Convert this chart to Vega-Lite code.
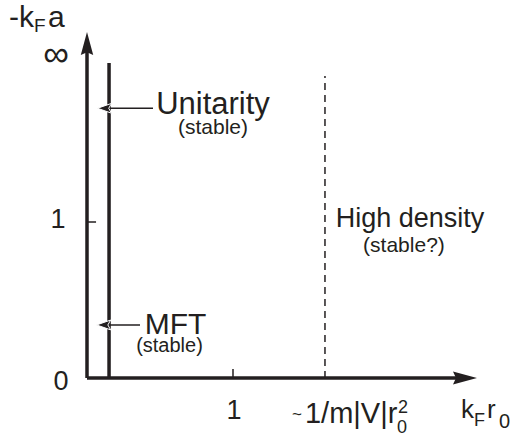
{
  "$schema": "https://vega.github.io/schema/vega-lite/v6.json",
  "width": 522,
  "height": 437,
  "padding": 0,
  "autosize": {"type": "none"},
  "background": "white",
  "config": {"view": {"stroke": null}, "text": {"font": "Liberation Sans", "color": "#231f20"}},
  "datasets": {
    "heavy": [
      {"name": "x axis", "x": 0, "y": 0, "x2": 2.589, "y2": 0},
      {"name": "y axis", "x": 0, "y": 0, "x2": 0, "y2": 2.144},
      {"name": "critical line", "x": 0.151, "y": 0, "x2": 0.151, "y2": 2.019}
    ],
    "thin": [
      {"name": "x tick 1", "x": 1, "y": 0, "x2": 1, "y2": 0.058},
      {"name": "y tick 1", "x": 0, "y": 1, "x2": 0.062, "y2": 1},
      {"name": "unitarity pointer", "x": 0.12, "y": 1.729, "x2": 0.452, "y2": 1.729},
      {"name": "mft pointer", "x": 0.114, "y": 0.34, "x2": 0.363, "y2": 0.34}
    ],
    "dashed": [{"name": "high density boundary", "x": 1.63, "y": 0, "x2": 1.63, "y2": 1.936}],
    "headUp": [{"x": 0, "y": 2.144}],
    "headRight": [{"x": 2.589, "y": 0}],
    "headLeft": [{"x": 0.12, "y": 1.729}, {"x": 0.114, "y": 0.34}],
    "unitarity": [{"x": 0.863, "y": 1.692, "label": "Unitarity"}],
    "mft": [{"x": 0.606, "y": 0.282, "label": "MFT"}],
    "highDensity": [
      {"x": 2.212, "y": 0.968, "label": "High density"},
      {"x": -0.178, "y": -0.077, "label": "0"},
      {"x": -0.199, "y": 0.962, "label": "1"},
      {"x": 1.007, "y": -0.263, "label": "1"}
    ],
    "stable21": [
      {"x": 0.863, "y": 1.564, "label": "(stable)"},
      {"x": 2.171, "y": 0.808, "label": "(stable?)"}
    ],
    "stable20": [{"x": 0.565, "y": 0.167, "label": "(stable)"}],
    "xTitleMain": [
      {"x": 2.562, "y": -0.256, "label": "k"},
      {"x": 2.74, "y": -0.256, "label": "r"}
    ],
    "xTitleSubF": [{"x": 2.651, "y": -0.308, "label": "F"}],
    "xTitleSub0": [{"x": 2.822, "y": -0.321, "label": "0"}],
    "scaleMain": [{"x": 1.493, "y": -0.288, "label": "1/m|V|r"}],
    "scaleScripts": [
      {"x": 2.13, "y": -0.224, "label": "2"},
      {"x": 2.123, "y": -0.353, "label": "0"}
    ],
    "tilde": [{"x": 1.438, "y": -0.269, "label": "~"}],
    "yTitleLeft": [{"x": -0.363, "y": 2.25, "label": "-k"}],
    "yTitleRight": [{"x": -0.267, "y": 2.25, "label": "a"}],
    "yTitleSub": [{"x": -0.363, "y": 2.218, "label": "F"}],
    "infinity": [{"x": -0.212, "y": 2.071, "label": "∞"}]
  },
  "encoding": {
    "x": {"field": "x", "type": "quantitative", "scale": {"domain": [-0.5959, 2.9795], "nice": false, "zero": false}, "axis": null},
    "y": {"field": "y", "type": "quantitative", "scale": {"domain": [-0.3782, 2.4231], "nice": false, "zero": false}, "axis": null}
  },
  "layer": [
    {"data": {"name": "dashed"}, "mark": {"type": "rule", "color": "#231f20", "strokeWidth": 1.5, "strokeDash": [7, 5]},
     "encoding": {"x2": {"field": "x2"}, "y2": {"field": "y2"}}},
    {"data": {"name": "heavy"}, "mark": {"type": "rule", "color": "#231f20", "strokeWidth": 3.5},
     "encoding": {"x2": {"field": "x2"}, "y2": {"field": "y2"}}},
    {"data": {"name": "thin"}, "mark": {"type": "rule", "color": "#231f20", "strokeWidth": 1.5},
     "encoding": {"x2": {"field": "x2"}, "y2": {"field": "y2"}}},
    {"data": {"name": "headUp"}, "mark": {"type": "point", "filled": true, "color": "#231f20", "opacity": 1, "size": 529, "shape": "M0,-1L0.54,1L0,0.75L-0.54,1Z"}},
    {"data": {"name": "headRight"}, "mark": {"type": "point", "filled": true, "color": "#231f20", "opacity": 1, "size": 576, "shape": "M1,0L-1,-0.54L-0.75,0L-1,0.54Z"}},
    {"data": {"name": "headLeft"}, "mark": {"type": "point", "filled": true, "fill": "#231f20", "stroke": "white", "strokeWidth": 1, "opacity": 1, "size": 196, "shape": "M-1,0L1,-0.7L0.6,0L1,0.7Z"}},
    {"data": {"name": "unitarity"}, "mark": {"type": "text", "fontSize": 31, "align": "center", "baseline": "alphabetic"}, "encoding": {"text": {"field": "label"}}},
    {"data": {"name": "mft"}, "mark": {"type": "text", "fontSize": 30, "align": "center", "baseline": "alphabetic"}, "encoding": {"text": {"field": "label"}}},
    {"data": {"name": "highDensity"}, "mark": {"type": "text", "fontSize": 27, "align": "center", "baseline": "alphabetic"}, "encoding": {"text": {"field": "label"}}},
    {"data": {"name": "stable21"}, "mark": {"type": "text", "fontSize": 21, "align": "center", "baseline": "alphabetic"}, "encoding": {"text": {"field": "label"}}},
    {"data": {"name": "stable20"}, "mark": {"type": "text", "fontSize": 20, "align": "center", "baseline": "alphabetic"}, "encoding": {"text": {"field": "label"}}},
    {"data": {"name": "xTitleMain"}, "mark": {"type": "text", "fontSize": 26, "align": "left", "baseline": "alphabetic"}, "encoding": {"text": {"field": "label"}}},
    {"data": {"name": "xTitleSubF"}, "mark": {"type": "text", "fontSize": 18, "align": "left", "baseline": "alphabetic"}, "encoding": {"text": {"field": "label"}}},
    {"data": {"name": "xTitleSub0"}, "mark": {"type": "text", "fontSize": 20, "align": "left", "baseline": "alphabetic"}, "encoding": {"text": {"field": "label"}}},
    {"data": {"name": "scaleMain"}, "mark": {"type": "text", "fontSize": 29, "align": "left", "baseline": "alphabetic"}, "encoding": {"text": {"field": "label"}}},
    {"data": {"name": "scaleScripts"}, "mark": {"type": "text", "fontSize": 18, "align": "left", "baseline": "alphabetic"}, "encoding": {"text": {"field": "label"}}},
    {"data": {"name": "tilde"}, "mark": {"type": "text", "fontSize": 17, "align": "center", "baseline": "alphabetic"}, "encoding": {"text": {"field": "label"}}},
    {"data": {"name": "yTitleLeft"}, "mark": {"type": "text", "fontSize": 30, "align": "right", "baseline": "alphabetic"}, "encoding": {"text": {"field": "label"}}},
    {"data": {"name": "yTitleRight"}, "mark": {"type": "text", "fontSize": 30, "align": "left", "baseline": "alphabetic"}, "encoding": {"text": {"field": "label"}}},
    {"data": {"name": "yTitleSub"}, "mark": {"type": "text", "fontSize": 19, "align": "left", "baseline": "alphabetic"}, "encoding": {"text": {"field": "label"}}},
    {"data": {"name": "infinity"}, "mark": {"type": "text", "fontSize": 36, "align": "center", "baseline": "middle"}, "encoding": {"text": {"field": "label"}}}
  ]
}
